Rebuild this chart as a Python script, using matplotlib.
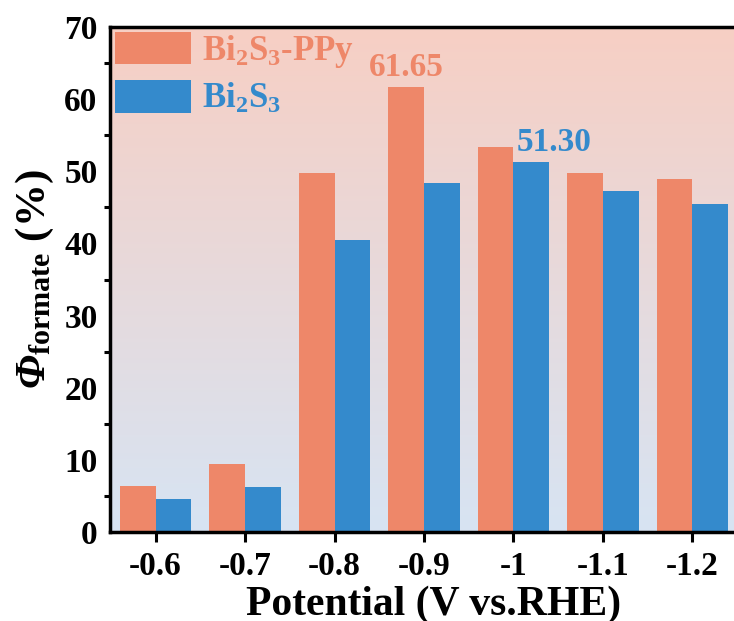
import numpy as np
import matplotlib
matplotlib.use("Agg")
import matplotlib.pyplot as plt
from matplotlib.colors import LinearSegmentedColormap

plt.rcParams["font.family"] = ["Liberation Serif", "DejaVu Serif"]
plt.rcParams["font.weight"] = "bold"
plt.rcParams["axes.labelweight"] = "bold"
plt.rcParams["mathtext.fontset"] = "custom"
plt.rcParams["mathtext.rm"] = "Liberation Serif:bold"
plt.rcParams["mathtext.bf"] = "Liberation Serif:bold"
plt.rcParams["mathtext.it"] = "Liberation Serif:italic:bold"
plt.rcParams["mathtext.sf"] = "Liberation Serif:italic:bold"

potentials = ["-0.6", "-0.7", "-0.8", "-0.9", "-1", "-1.1", "-1.2"]
bi2s3_ppy = [6.4, 9.4, 49.7, 61.65, 53.3, 49.7, 48.9]
bi2s3 = [4.6, 6.2, 40.5, 48.4, 51.30, 47.3, 45.5]

c_ppy = "#EE8769"
c_bi = "#348ACC"

fig = plt.figure(figsize=(7.34, 6.21), dpi=100)
# axes runs a little past the right edge of the canvas
ax = fig.add_axes([110 / 734, 89 / 621, 628 / 734, 505 / 621])

x = np.arange(len(potentials))
w = 0.4
ax.set_xlim(-0.51, len(potentials) - 1 + 0.51)
ax.set_ylim(0, 70)

# pink-to-blue vertical background
cmap = LinearSegmentedColormap.from_list("bg", ["#D7E4F3", "#F7CFC4"])
grad = np.linspace(0, 1, 256).reshape(-1, 1)
ax.imshow(grad, cmap=cmap, origin="lower", aspect="auto",
          extent=[-0.51, len(potentials) - 1 + 0.51, 0, 70], zorder=0)

ax.bar(x - w / 2, bi2s3_ppy, w, color=c_ppy, label=r"Bi$_2$S$_3$-PPy", zorder=2)
ax.bar(x + w / 2, bi2s3, w, color=c_bi, label=r"Bi$_2$S$_3$", zorder=2)

ax.text(3 - w / 2, bi2s3_ppy[3] + 0.6, f"{bi2s3_ppy[3]:.2f}", color=c_ppy,
        fontsize=24, ha="center", va="bottom", zorder=3)
ax.text(4 + 0.04, bi2s3[4] + 0.5, f"{bi2s3[4]:.2f}", color=c_bi,
        fontsize=24, ha="left", va="bottom", zorder=3)

ax.set_xticks(x)
ax.set_xticklabels(potentials)
ax.set_yticks(np.arange(0, 71, 10))
ax.set_yticks(np.arange(5, 70, 10), minor=True)
ax.tick_params(axis="x", direction="out", length=7, width=2.2, labelsize=24, pad=7)
ax.tick_params(axis="y", which="major", length=0, labelsize=24, pad=9)
ax.tick_params(axis="y", which="minor", direction="out", length=4, width=2.2)
for s in ax.spines.values():
    s.set_linewidth(2.5)

ax.set_xlabel("Potential (V vs.RHE)", fontsize=30)
ax.xaxis.set_label_coords(0.516, -0.106)
ax.set_ylabel(r"$\mathsf{\Phi}_{\mathrm{formate}}$ (%)", fontsize=31, labelpad=6)

leg = ax.legend(loc="upper left", bbox_to_anchor=(5 / 628, 1 - 5 / 505),
                frameon=False, fontsize=25, handlelength=2.2, handleheight=1.05,
                handletextpad=0.3, labelspacing=0.3, borderpad=0, borderaxespad=0)
for t, c in zip(leg.get_texts(), [c_ppy, c_bi]):
    t.set_color(c)

fig.savefig("out.png", dpi=100)
